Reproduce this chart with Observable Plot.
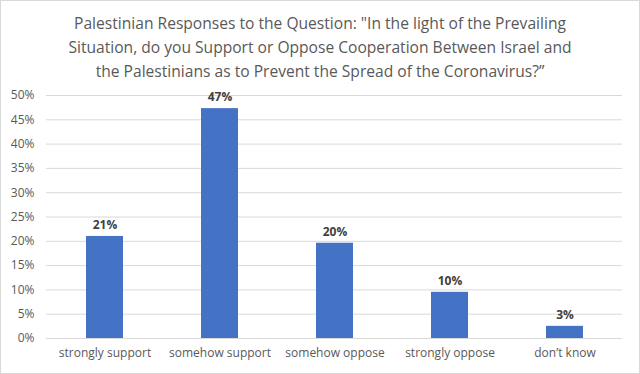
<!DOCTYPE html>
<html>
<head>
<meta charset="utf-8">
<script src="https://cdn.jsdelivr.net/npm/d3@7"></script>
<script src="https://cdn.jsdelivr.net/npm/@observablehq/plot@0.6"></script>
<style>
  html, body { margin: 0; padding: 0; background: #fff; }
  #chart { width: 640px; height: 374px; box-sizing: border-box; border: 1px solid #d9d9d9; background: #fff; overflow: hidden; font-family: "Open Sans", sans-serif; }
  #title { height: 84px; box-sizing: border-box; padding-top: 10px; text-align: center; color: #595959; font-size: 15.6px; line-height: 24px; }
  svg { display: block; }
</style>
</head>
<body>
<div id="chart">
  <div id="title">Palestinian Responses to the Question: "In the light of the Prevailing<br>Situation, do you Support or Oppose Cooperation Between Israel and<br>the Palestinians as to Prevent the Spread of the Coronavirus?”</div>
</div>
<script>
const categories = ["strongly support", "somehow support", "somehow oppose", "strongly oppose", "don\u2019t know"];
const values = [21.0, 47.3, 19.6, 9.5, 2.5];
const valueLabels = ["21%", "47%", "20%", "10%", "3%"];
const yTicks = [0, 5, 10, 15, 20, 25, 30, 35, 40, 45, 50];

const data = categories.map((c, i) => ({category: c, value: values[i], label: valueLabels[i]}));

const chart = Plot.plot({
  width: 638,
  height: 288,
  marginTop: 10,
  marginBottom: 35,
  marginLeft: 45,
  marginRight: 17,
  style: {fontFamily: "Open Sans, sans-serif", fontSize: "12px", color: "#595959", background: "#fff"},
  x: {domain: categories, paddingInner: 0.68, paddingOuter: 0.34, label: null},
  y: {domain: [0, 50], label: null},
  marks: [
    Plot.ruleY(yTicks, {stroke: "#d9d9d9", strokeWidth: 1}),
    Plot.barY(data, {x: "category", y: "value", fill: "#4472C4"}),
    Plot.text(data, {x: "category", y: "value", text: "label", dy: -11, fontWeight: "bold", fill: "#404040", fontSize: 12}),
    Plot.axisY({ticks: yTicks, tickFormat: d => d + "%", tickSize: 0, tickPadding: 12, label: null, fill: "#595959", fontSize: 12}),
    Plot.axisX({tickSize: 0, tickPadding: 10, label: null, fill: "#595959", fontSize: 12})
  ]
});
document.getElementById("chart").appendChild(chart);
</script>
</body>
</html>
